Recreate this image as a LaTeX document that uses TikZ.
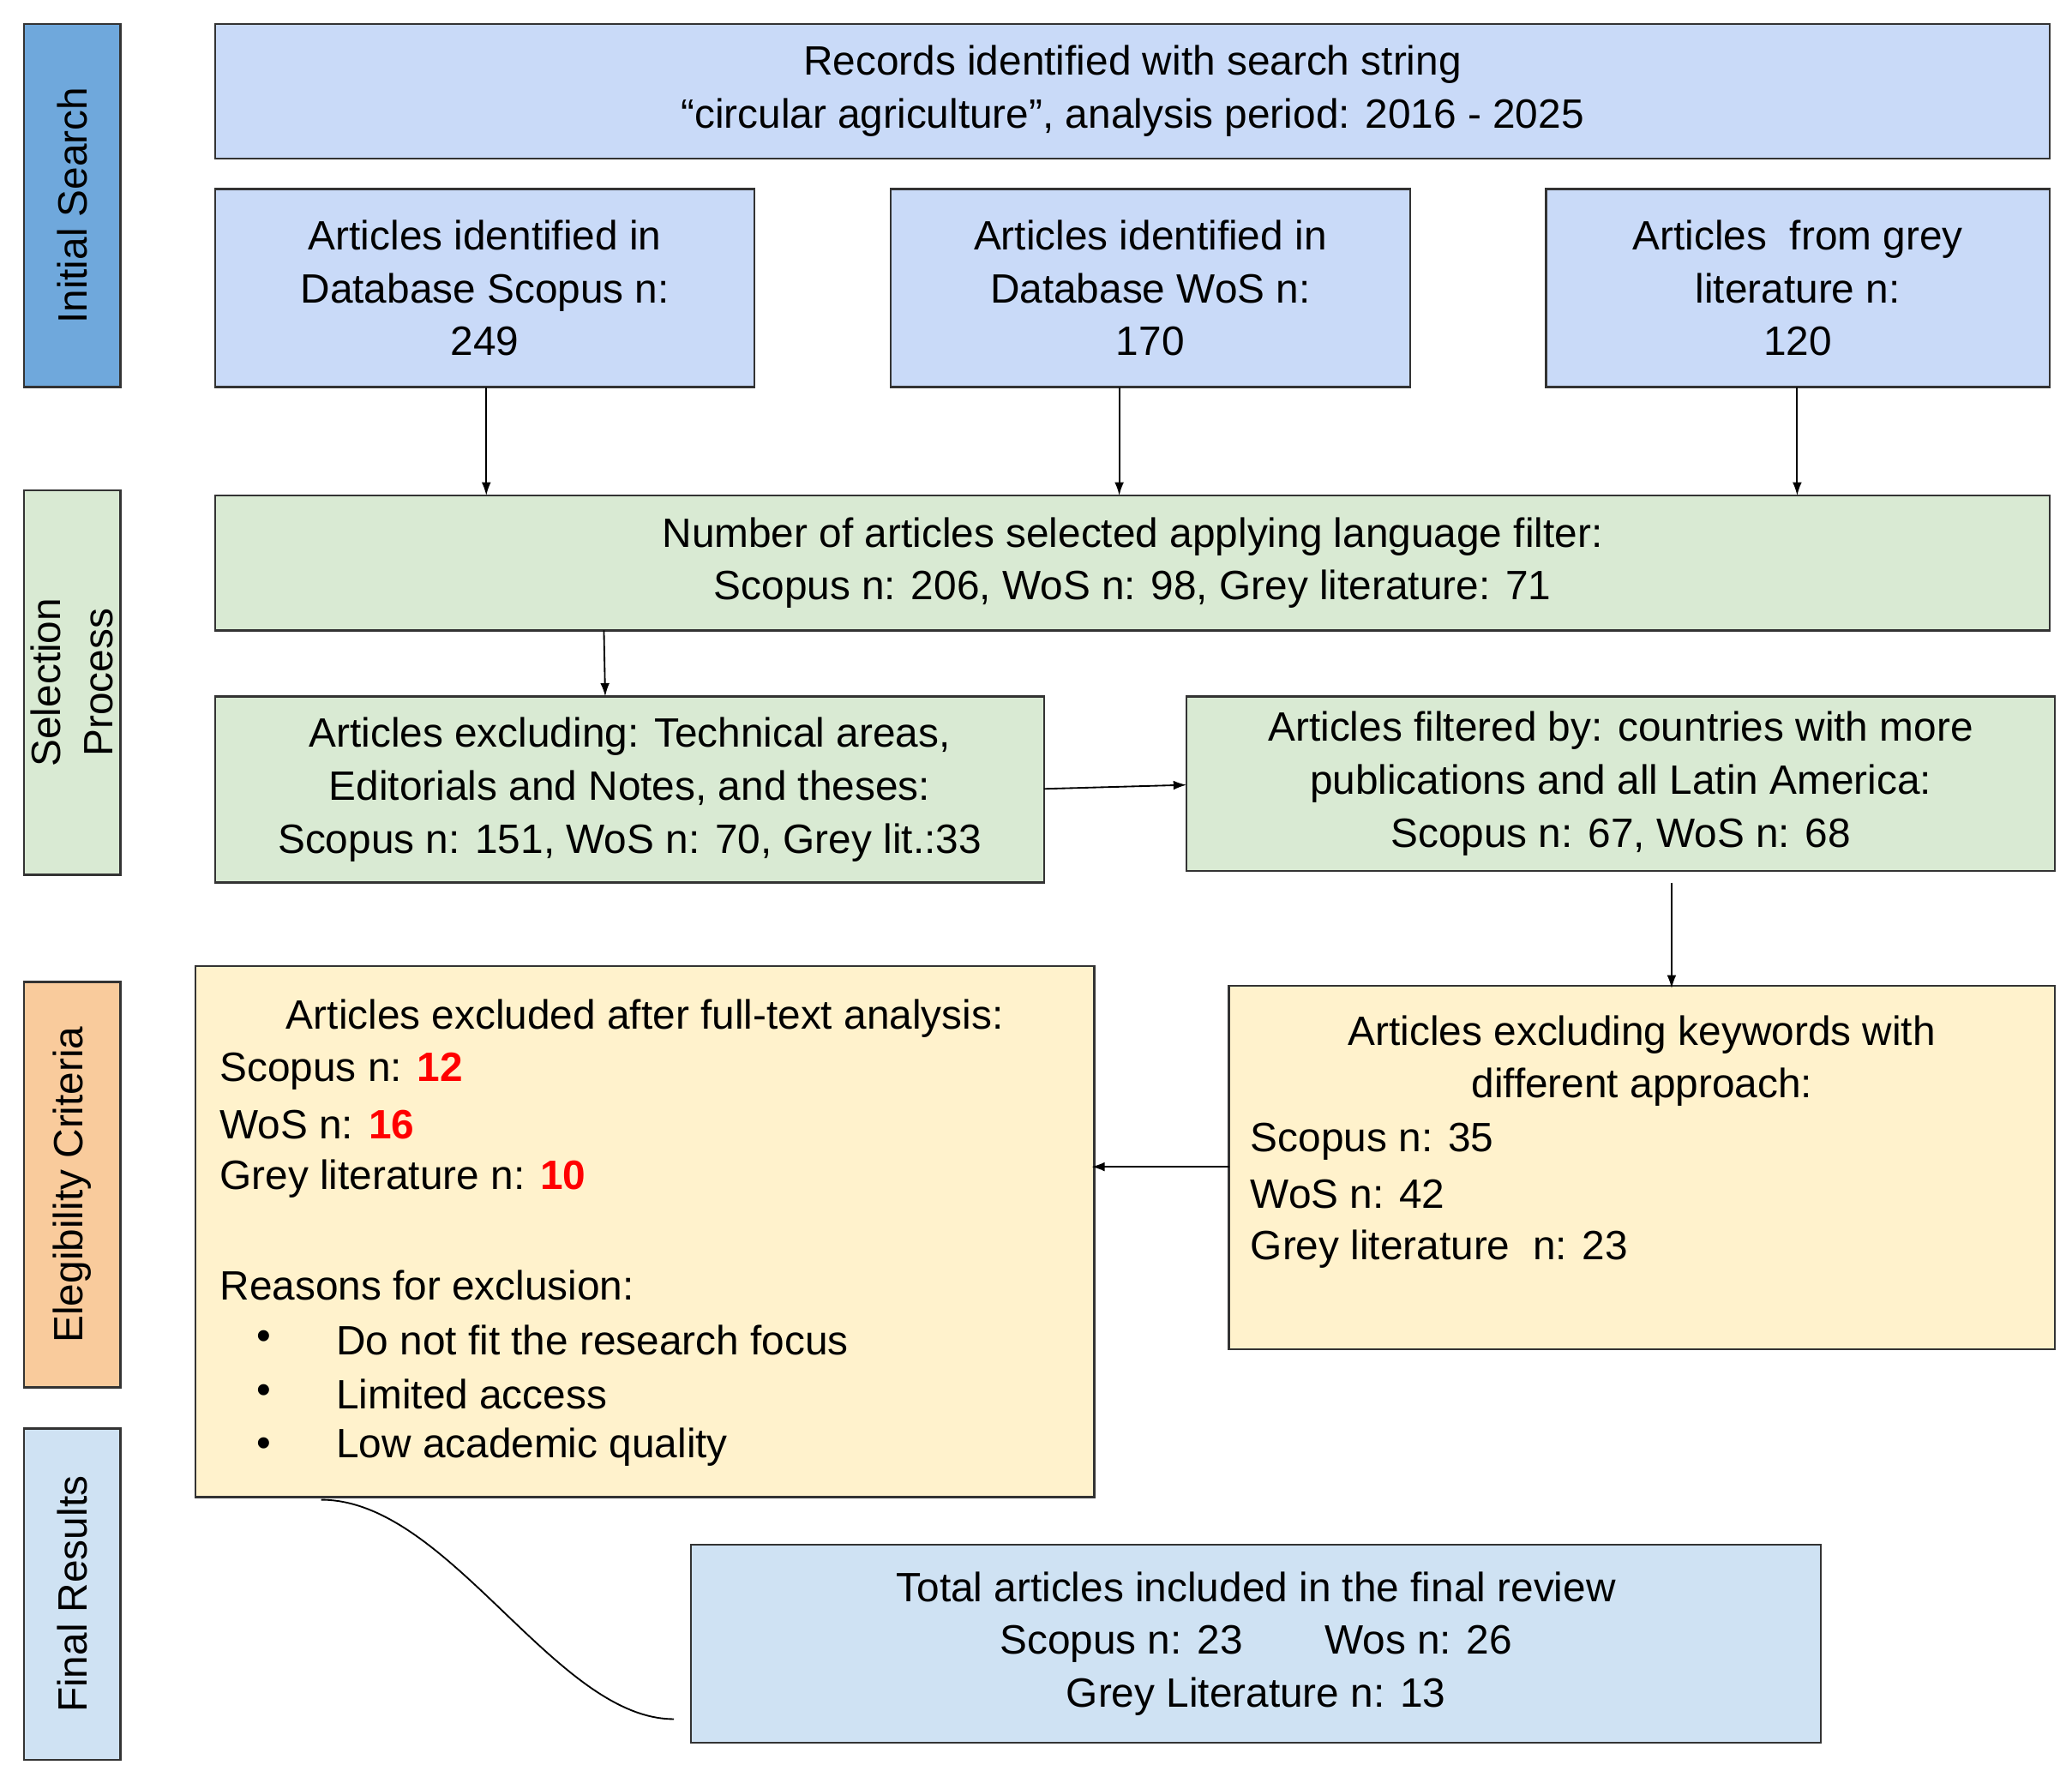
\documentclass[tikz,border=0pt]{standalone}
\usepackage{fontspec}
\setmainfont{Liberation Sans}
\usetikzlibrary{arrows.meta}
\definecolor{sideblue}{HTML}{6FA8DC}
\definecolor{lblue}{HTML}{C9DAF8}
\definecolor{lgreen}{HTML}{D9EAD3}
\definecolor{lorange}{HTML}{F9CB9C}
\definecolor{lyellow}{HTML}{FFF2CC}
\definecolor{lcyan}{HTML}{CFE2F3}
\begin{document}
\begin{tikzpicture}[x=0.5pt,y=-0.5pt,
  box/.style={draw=black!80,line width=0.8pt,inner sep=0pt,align=center,font=\fontsize{15.5}{20}\selectfont},
  side/.style={box,rotate=90},
  txt/.style={inner sep=0pt,font=\fontsize{15.5}{20}\selectfont},
  arr/.style={-{Latex[length=5pt,width=3.5pt]},line width=0.6pt}]
\useasboundingbox (0,0) rectangle (1568,1349);
% side labels
\node[side,fill=sideblue,minimum width=137.5pt,minimum height=36.5pt] (s1) at (54.5,155.5) {Initial Search};
\node[side,fill=lgreen,minimum width=145.5pt,minimum height=36.5pt] (s2) at (54.5,516.5) {Selection\\Process};
\node[side,fill=lorange,minimum width=153.5pt,minimum height=36.5pt] (s3) at (54.5,896.5) {Elegibility Criteria};
\node[side,fill=lcyan,minimum width=125.5pt,minimum height=36.5pt] (s4) at (54.5,1206.5) {Final Results};
% boxes
\node[box,fill=lblue,minimum width=694pt,minimum height=51pt] (rec) at (857,69) {Records identified with search string\\``circular agriculture'', analysis period: 2016 - 2025};
\node[box,fill=lblue,minimum width=204pt,minimum height=75pt] (sc) at (367,218) {Articles identified in\\Database Scopus n:\\249};
\node[box,fill=lblue,minimum width=196.5pt,minimum height=75pt] (wos) at (870.5,218) {Articles identified in\\Database WoS n:\\170};
\node[box,fill=lblue,minimum width=190.5pt,minimum height=75pt] (gr) at (1360.5,218) {Articles\ \ from grey\\literature n:\\120};
\node[box,fill=lgreen,minimum width=694pt,minimum height=51pt] (lang) at (857,426) {Number of articles selected applying language filter:\\Scopus n: 206, WoS n: 98, Grey literature: 71};
\node[box,fill=lgreen,minimum width=313.5pt,minimum height=70.5pt] (exc) at (476.5,597.5) {Articles excluding: Technical areas,\\Editorials and Notes, and theses:\\Scopus n: 151, WoS n: 70, Grey lit.:33};
\node[box,fill=lgreen,minimum width=328.5pt,minimum height=66pt] (filt) at (1226.5,593) {Articles filtered by: countries with more\\publications and all Latin America:\\Scopus n: 67, WoS n: 68};
\node[box,fill=lyellow,minimum width=340pt,minimum height=201pt] (full) at (488,932) {};
\node[box,fill=lyellow,minimum width=312.5pt,minimum height=137.5pt] (kw) at (1242.5,883.5) {};
\node[box,fill=lcyan,minimum width=427.5pt,minimum height=75pt] (tot) at (950.5,1244) {Total articles included in the final review\\Scopus n: 23\qquad Wos n: 26\\Grey Literature n: 13};
% full text box contents
\node[txt] (f0) at (488,771) {Articles excluded after full-text analysis:};
\node[txt,anchor=west] (f1) at (166,811) {Scopus n: \textcolor{red}{\textbf{12}}};
\node[txt,anchor=west] (f2) at (166,851) {WoS n: \textcolor{red}{\textbf{16}}};
\node[txt,anchor=west] (f3) at (166,892) {Grey literature n: \textcolor{red}{\textbf{10}}};
\node[txt,anchor=west] (f4) at (166,973) {Reasons for exclusion:};
\node[txt] (b1) at (200,1014) {\textbullet};
\node[txt] (b2) at (200,1055) {\textbullet};
\node[txt] (b3) at (200,1095) {\textbullet};
\node[txt,anchor=west] (f5) at (254,1014) {Do not fit the research focus};
\node[txt,anchor=west] (f6) at (254,1055) {Limited access};
\node[txt,anchor=west] (f7) at (254,1095) {Low academic quality};
% keyword box contents
\node[txt,align=center] (k0) at (1242.5,803) {Articles excluding keywords with\\different approach:};
\node[txt,anchor=west] (k1) at (946,864) {Scopus n: 35};
\node[txt,anchor=west] (k2) at (946,904) {WoS n: 42};
\node[txt,anchor=west] (k3) at (946,945) {Grey literature\ \ n: 23};
% connectors
\coordinate (a1) at (368,293); \coordinate (a2) at (368,375);
\coordinate (b1c) at (847,293); \coordinate (b2c) at (847,375);
\coordinate (c1) at (1360,293); \coordinate (c2) at (1360,375);
\coordinate (d1) at (457,477); \coordinate (d2) at (458,527);
\coordinate (e1) at (790,597); \coordinate (e2) at (898,594);
\coordinate (g1) at (1265,668); \coordinate (g2) at (1265,748);
\coordinate (h1) at (930,883); \coordinate (h2) at (826,883);
\coordinate (i1) at (243,1135); \coordinate (i2) at (510,1301);
\draw[arr] (a1) -- (a2);
\draw[arr] (b1c) -- (b2c);
\draw[arr] (c1) -- (c2);
\draw[arr] (d1) -- (d2);
\draw[arr] (e1) -- (e2);
\draw[arr] (g1) -- (g2);
\draw[arr] (h1) -- (h2);
\draw[line width=0.6pt] (i1) .. controls (340,1135) and (420,1301) .. (i2);
\end{tikzpicture}
\end{document}
